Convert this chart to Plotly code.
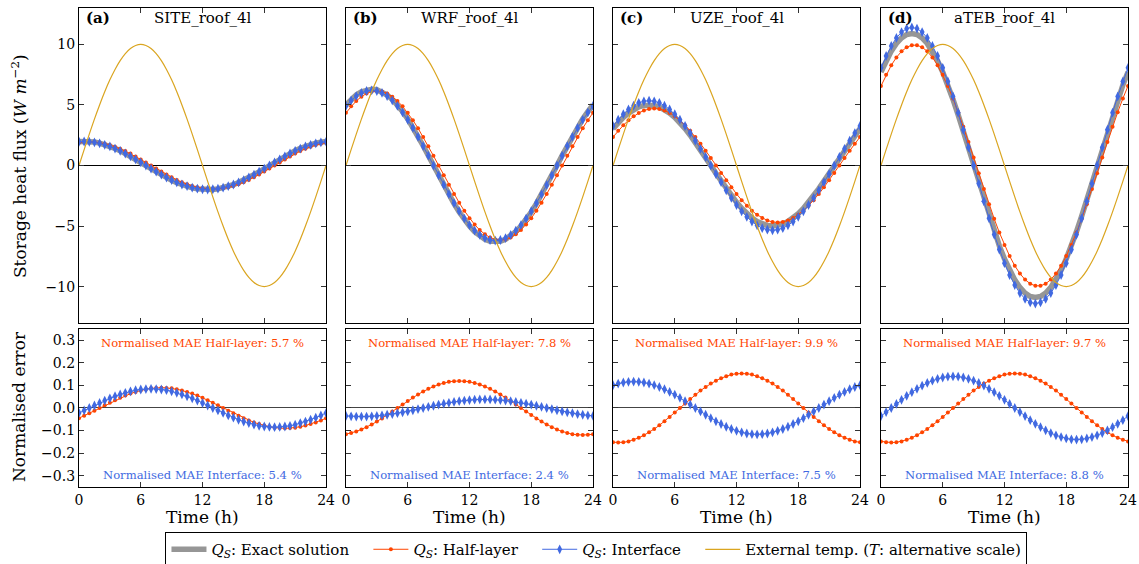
import plotly.graph_objects as go
from plotly.subplots import make_subplots

# Time of day (h), half-hourly
hours = [0, 0.5, 1, 1.5, 2, 2.5, 3, 3.5, 4, 4.5, 5, 5.5, 6, 6.5, 7, 7.5, 8, 8.5,
         9, 9.5, 10, 10.5, 11, 11.5, 12, 12.5, 13, 13.5, 14, 14.5, 15, 15.5, 16,
         16.5, 17, 17.5, 18, 18.5, 19, 19.5, 20, 20.5, 21, 21.5, 22, 22.5, 23,
         23.5, 24]

# External temperature forcing (shown on an alternative scale)
ext_temp = [0, 1.31, 2.59, 3.83, 5.0, 6.09, 7.07, 7.93, 8.66, 9.24, 9.66, 9.91, 10,
            9.91, 9.66, 9.24, 8.66, 7.93, 7.07, 6.09, 5.0, 3.83, 2.59, 1.31, 0,
            -1.31, -2.59, -3.83, -5.0, -6.09, -7.07, -7.93, -8.66, -9.24, -9.66,
            -9.91, -10, -9.91, -9.66, -9.24, -8.66, -7.93, -7.07, -6.09, -5.0,
            -3.83, -2.59, -1.31, 0]

# ---- SITE_roof_4l ----
site_exact = [1.98, 2.00, 1.98, 1.93, 1.85, 1.73, 1.59, 1.41, 1.22, 1.00, 0.77, 0.52, 0.26, 0.00,
              -0.26, -0.52, -0.77, -1.00, -1.22, -1.41, -1.59, -1.73, -1.85, -1.93, -1.98, -2.00,
              -1.98, -1.93, -1.85, -1.73, -1.59, -1.41, -1.22, -1.00, -0.77, -0.52, -0.26, 0.00,
              0.26, 0.52, 0.77, 1.00, 1.22, 1.41, 1.59, 1.73, 1.85, 1.93, 1.98]
site_half = [1.88, 1.93, 1.95, 1.93, 1.88, 1.80, 1.69, 1.55, 1.38, 1.19, 0.98, 0.75, 0.50, 0.25, 0.00,
             -0.25, -0.50, -0.75, -0.98, -1.19, -1.38, -1.55, -1.69, -1.80, -1.88, -1.93, -1.95,
             -1.93, -1.88, -1.80, -1.69, -1.55, -1.38, -1.19, -0.98, -0.75, -0.50, -0.25, 0.00,
             0.25, 0.50, 0.75, 0.98, 1.19, 1.38, 1.55, 1.69, 1.80, 1.88]
site_iface = [1.96, 1.98, 1.96, 1.91, 1.83, 1.71, 1.57, 1.40, 1.21, 0.99, 0.76, 0.51, 0.26, 0.00,
              -0.26, -0.51, -0.76, -0.99, -1.21, -1.40, -1.57, -1.71, -1.83, -1.91, -1.96, -1.98,
              -1.96, -1.91, -1.83, -1.71, -1.57, -1.40, -1.21, -0.99, -0.76, -0.51, -0.26, 0.00,
              0.26, 0.51, 0.76, 0.99, 1.21, 1.40, 1.57, 1.71, 1.83, 1.91, 1.96]
site_err_half = [-.045, -.034, -.023, -.012, 0, .012, .023, .034, .045, .055, .064, .071, .078, .083,
                 .087, .089, .090, .089, .087, .083, .078, .071, .064, .055, .045, .034, .023, .012, 0,
                 -.012, -.023, -.034, -.045, -.055, -.064, -.071, -.078, -.083, -.087, -.089, -.090,
                 -.089, -.087, -.083, -.078, -.071, -.064, -.055, -.045]
site_err_iface = [-.022, -.011, 0, .011, .022, .033, .043, .052, .060, .067, .074, .079, .082, .084,
                  .085, .084, .082, .079, .074, .067, .060, .052, .043, .033, .022, .011, 0, -.011,
                  -.022, -.033, -.043, -.052, -.060, -.067, -.074, -.079, -.082, -.084, -.085, -.084,
                  -.082, -.079, -.074, -.067, -.060, -.052, -.043, -.033, -.022]

# ---- WRF_roof_4l ----
wrf_exact = [5.00, 5.46, 5.82, 6.09, 6.25, 6.30, 6.25, 6.09, 5.82, 5.46, 5.00, 4.45, 3.84, 3.15, 2.41,
             1.63, 0.82, 0, -0.82, -1.63, -2.41, -3.15, -3.84, -4.45, -5.00, -5.46, -5.82, -6.09,
             -6.25, -6.30, -6.25, -6.09, -5.82, -5.46, -5.00, -4.45, -3.84, -3.15, -2.41, -1.63,
             -0.82, 0, 0.82, 1.63, 2.41, 3.15, 3.84, 4.45, 5.00]
wrf_half = [4.35, 4.88, 5.33, 5.68, 5.94, 6.10, 6.15, 6.10, 5.94, 5.68, 5.33, 4.88, 4.35, 3.74, 3.08,
            2.35, 1.59, 0.80, 0, -0.80, -1.59, -2.35, -3.08, -3.74, -4.35, -4.88, -5.33, -5.68,
            -5.94, -6.10, -6.15, -6.10, -5.94, -5.68, -5.33, -4.88, -4.35, -3.74, -3.08, -2.35,
            -1.59, -0.80, 0, 0.80, 1.59, 2.35, 3.08, 3.74, 4.35]
wrf_iface = [4.92, 5.37, 5.73, 5.99, 6.15, 6.20, 6.15, 5.99, 5.73, 5.37, 4.92, 4.38, 3.77, 3.10, 2.37,
             1.60, 0.81, 0, -0.81, -1.60, -2.37, -3.10, -3.77, -4.38, -4.92, -5.37, -5.73, -5.99,
             -6.15, -6.20, -6.15, -5.99, -5.73, -5.37, -4.92, -4.38, -3.77, -3.10, -2.37, -1.60,
             -0.81, 0, 0.81, 1.60, 2.37, 3.10, 3.77, 4.38, 4.92]
wrf_err_half = [-.116, -.111, -.104, -.095, -.085, -.073, -.060, -.046, -.031, -.016, 0, .016, .031,
                .046, .060, .073, .085, .095, .104, .111, .116, .119, .120, .119, .116, .111, .104,
                .095, .085, .073, .060, .046, .031, .016, 0, -.016, -.031, -.046, -.060, -.073,
                -.085, -.095, -.104, -.111, -.116, -.119, -.120, -.119, -.116]
wrf_err_iface = [-.035, -.037, -.038, -.038, -.038, -.037, -.035, -.033, -.030, -.027, -.023, -.019,
                 -.015, -.010, -.005, 0, .005, .010, .015, .019, .023, .027, .030, .033, .035, .037,
                 .038, .038, .038, .037, .035, .033, .030, .027, .023, .019, .015, .010, .005, 0,
                 -.005, -.010, -.015, -.019, -.023, -.027, -.030, -.033, -.035]

# ---- UZE_roof_4l ----
uze_exact = [3.04, 3.54, 3.97, 4.33, 4.62, 4.83, 4.96, 5.00, 4.96, 4.83, 4.62, 4.33, 3.97, 3.54, 3.04,
             2.50, 1.91, 1.29, 0.65, 0, -0.65, -1.29, -1.91, -2.50, -3.04, -3.54, -3.97, -4.33,
             -4.62, -4.83, -4.96, -5.00, -4.96, -4.83, -4.62, -4.33, -3.97, -3.54, -3.04, -2.50,
             -1.91, -1.29, -0.65, 0, 0.65, 1.29, 1.91, 2.50, 3.04]
uze_half = [2.35, 2.86, 3.32, 3.73, 4.07, 4.34, 4.54, 4.66, 4.70, 4.66, 4.54, 4.34, 4.07, 3.73, 3.32,
            2.86, 2.35, 1.80, 1.22, 0.61, 0, -0.61, -1.22, -1.80, -2.35, -2.86, -3.32, -3.73,
            -4.07, -4.34, -4.54, -4.66, -4.70, -4.66, -4.54, -4.34, -4.07, -3.73, -3.32, -2.86,
            -2.35, -1.80, -1.22, -0.61, 0, 0.61, 1.22, 1.80, 2.35]
uze_iface = [3.26, 3.78, 4.24, 4.63, 4.94, 5.17, 5.30, 5.35, 5.30, 5.17, 4.94, 4.63, 4.24, 3.78, 3.26,
             2.68, 2.05, 1.38, 0.70, 0, -0.70, -1.38, -2.05, -2.68, -3.26, -3.78, -4.24, -4.63,
             -4.94, -5.17, -5.30, -5.35, -5.30, -5.17, -4.94, -4.63, -4.24, -3.78, -3.26, -2.68,
             -2.05, -1.38, -0.70, 0, 0.70, 1.38, 2.05, 2.68, 3.26]
uze_err_half = [-.152, -.153, -.152, -.148, -.141, -.132, -.121, -.108, -.093, -.077, -.059, -.040,
                -.020, 0, .020, .040, .059, .077, .093, .108, .121, .132, .141, .148, .152, .153,
                .152, .148, .141, .132, .121, .108, .093, .077, .059, .040, .020, 0, -.020, -.040,
                -.059, -.077, -.093, -.108, -.121, -.132, -.141, -.148, -.152]
uze_err_iface = [.101, .108, .113, .116, .117, .116, .113, .108, .101, .093, .083, .071, .059, .045,
                 .030, .015, 0, -.015, -.030, -.045, -.059, -.071, -.083, -.093, -.101, -.108,
                 -.113, -.116, -.117, -.116, -.113, -.108, -.101, -.093, -.083, -.071, -.059, -.045,
                 -.030, -.015, 0, .015, .030, .045, .059, .071, .083, .093, .101]

# ---- aTEB_roof_4l ----
ateb_exact = [7.71, 8.65, 9.44, 10.07, 10.53, 10.81, 10.90, 10.81, 10.53, 10.07, 9.44, 8.65, 7.71,
              6.64, 5.45, 4.17, 2.82, 1.42, 0, -1.42, -2.82, -4.17, -5.45, -6.64, -7.71, -8.65,
              -9.44, -10.07, -10.53, -10.81, -10.90, -10.81, -10.53, -10.07, -9.44, -8.65, -7.71,
              -6.64, -5.45, -4.17, -2.82, -1.42, 0, 1.42, 2.82, 4.17, 5.45, 6.64, 7.71]
ateb_half = [6.56, 7.48, 8.27, 8.92, 9.42, 9.76, 9.93, 9.93, 9.76, 9.42, 8.92, 8.27, 7.48, 6.56, 5.53,
             4.40, 3.20, 1.94, 0.65, -0.65, -1.94, -3.20, -4.40, -5.53, -6.56, -7.48, -8.27, -8.92,
             -9.42, -9.76, -9.93, -9.93, -9.76, -9.42, -8.92, -8.27, -7.48, -6.56, -5.53, -4.40,
             -3.20, -1.94, -0.65, 0.65, 1.94, 3.20, 4.40, 5.53, 6.56]
ateb_iface = [8.06, 9.04, 9.87, 10.53, 11.01, 11.30, 11.40, 11.30, 11.01, 10.53, 9.87, 9.04, 8.06,
              6.94, 5.70, 4.36, 2.95, 1.49, 0, -1.49, -2.95, -4.36, -5.70, -6.94, -8.06, -9.04,
              -9.87, -10.53, -11.01, -11.30, -11.40, -11.30, -11.01, -10.53, -9.87, -9.04, -8.06,
              -6.94, -5.70, -4.36, -2.95, -1.49, 0, 1.49, 2.95, 4.36, 5.70, 6.94, 8.06]
ateb_err_half = [-.148, -.152, -.153, -.152, -.148, -.141, -.132, -.121, -.108, -.093, -.077, -.059,
                 -.040, -.020, 0, .020, .040, .059, .077, .093, .108, .121, .132, .141, .148, .152,
                 .153, .152, .148, .141, .132, .121, .108, .093, .077, .059, .040, .020, 0, -.020,
                 -.040, -.059, -.077, -.093, -.108, -.121, -.132, -.141, -.148]
ateb_err_iface = [-.036, -.018, 0, .018, .036, .054, .070, .085, .099, .111, .121, .129, .135, .139,
                  .140, .139, .135, .129, .121, .111, .099, .085, .070, .054, .036, .018, 0, -.018,
                  -.036, -.054, -.070, -.085, -.099, -.111, -.121, -.129, -.135, -.139, -.140,
                  -.139, -.135, -.129, -.121, -.111, -.099, -.085, -.070, -.054, -.036]

panel_names = ["SITE_roof_4l", "WRF_roof_4l", "UZE_roof_4l", "aTEB_roof_4l"]
panel_tags = ["(a)", "(b)", "(c)", "(d)"]
mae_half = ["5.7", "7.8", "9.9", "9.7"]
mae_iface = ["5.4", "2.4", "7.5", "8.8"]
exact_series = [site_exact, wrf_exact, uze_exact, ateb_exact]
half_series = [site_half, wrf_half, uze_half, ateb_half]
iface_series = [site_iface, wrf_iface, uze_iface, ateb_iface]
err_half_series = [site_err_half, wrf_err_half, uze_err_half, ateb_err_half]
err_iface_series = [site_err_iface, wrf_err_iface, uze_err_iface, ateb_err_iface]

GREY = "#969696"
RED = "#FF4500"
BLUE = "#4169E1"
GOLD = "#DAA520"
SERIF = "DejaVu Serif"
PAD = "&nbsp;" * 3

fig = make_subplots(rows=2, cols=4)

for i in range(4):
    col = i + 1
    first = i == 0
    fig.add_trace(go.Scatter(
        x=hours, y=exact_series[i], mode="lines", line=dict(color=GREY, width=5.5),
        name="<i>Q<sub>S</sub></i>: Exact solution" + PAD, legendgroup="exact",
        showlegend=first), row=1, col=col)
    fig.add_trace(go.Scatter(
        x=hours, y=half_series[i], mode="lines+markers",
        line=dict(color=RED, width=1), marker=dict(symbol="circle", size=4, color=RED),
        name="<i>Q<sub>S</sub></i>: Half-layer" + PAD, legendgroup="half",
        showlegend=first), row=1, col=col)
    fig.add_trace(go.Scatter(
        x=hours, y=iface_series[i], mode="lines+markers",
        line=dict(color=BLUE, width=1), marker=dict(symbol="diamond-tall", size=7, color=BLUE),
        name="<i>Q<sub>S</sub></i>: Interface" + PAD, legendgroup="iface",
        showlegend=first), row=1, col=col)
    fig.add_trace(go.Scatter(
        x=hours, y=ext_temp, mode="lines", line=dict(color=GOLD, width=1.2, shape="spline"),
        name="External temp. (<i>T</i>: alternative scale)", legendgroup="temp",
        showlegend=first), row=1, col=col)

    fig.add_trace(go.Scatter(
        x=hours, y=err_half_series[i], mode="lines+markers",
        line=dict(color=RED, width=1), marker=dict(symbol="circle", size=4, color=RED),
        showlegend=False, legendgroup="half"), row=2, col=col)
    fig.add_trace(go.Scatter(
        x=hours, y=err_iface_series[i], mode="lines+markers",
        line=dict(color=BLUE, width=1), marker=dict(symbol="diamond-tall", size=7, color=BLUE),
        showlegend=False, legendgroup="iface"), row=2, col=col)

x_domains = [[0.0, 0.2355], [0.2545, 0.49], [0.5091, 0.7445], [0.7645, 1.0]]
y_domains = [[0.3424, 1.0], [0.0, 0.3299]]

axis_common = dict(
    showline=True, linecolor="black", linewidth=1.3, mirror="allticks",
    ticks="inside", ticklen=5, tickwidth=1, tickcolor="#333333",
    showgrid=False, tickfont=dict(family=SERIF, size=14, color="black"),
)

for r in range(2):
    for c in range(4):
        idx = r * 4 + c + 1
        xname = "xaxis" if idx == 1 else f"xaxis{idx}"
        yname = "yaxis" if idx == 1 else f"yaxis{idx}"
        fig.layout[xname].update(
            domain=x_domains[c], range=[0, 24], tickvals=[0, 6, 12, 18, 24],
            zeroline=False, showticklabels=(r == 1), **axis_common)
        if r == 0:
            fig.layout[yname].update(
                domain=y_domains[0], range=[-13, 13], tickvals=[-10, -5, 0, 5, 10],
                zeroline=True, zerolinecolor="black", zerolinewidth=1,
                showticklabels=(c == 0), **axis_common)
        else:
            fig.layout[yname].update(
                domain=y_domains[1], range=[-0.35, 0.35],
                tickvals=[-0.3, -0.2, -0.1, 0.0, 0.1, 0.2, 0.3], tickformat=".1f",
                zeroline=True, zerolinecolor="#444444", zerolinewidth=1,
                showticklabels=(c == 0), **axis_common)

annotations = []
for i in range(4):
    top = "x" if i == 0 else f"x{i + 1}"
    ytop = "y" if i == 0 else f"y{i + 1}"
    bot = f"x{i + 5}"
    ybot = f"y{i + 5}"
    annotations.append(dict(x=0.45, y=12.2, xref=top, yref=ytop, text=f"<b>{panel_tags[i]}</b>",
                            showarrow=False, xanchor="left", yanchor="middle",
                            font=dict(family=SERIF, size=15, color="black")))
    annotations.append(dict(x=12, y=12.2, xref=top, yref=ytop, text=panel_names[i],
                            showarrow=False, xanchor="center", yanchor="middle",
                            font=dict(family=SERIF, size=15, color="black")))
    annotations.append(dict(x=12, y=0.29, xref=bot, yref=ybot,
                            text=f"Normalised MAE Half-layer: {mae_half[i]} %",
                            showarrow=False, xanchor="center", yanchor="middle",
                            font=dict(family=SERIF, size=11.6, color=RED)))
    annotations.append(dict(x=12, y=-0.295, xref=bot, yref=ybot,
                            text=f"Normalised MAE Interface: {mae_iface[i]} %",
                            showarrow=False, xanchor="center", yanchor="middle",
                            font=dict(family=SERIF, size=11.6, color=BLUE)))
    annotations.append(dict(x=12, y=-0.0635, xref=bot, yref="paper", text="Time (h)",
                            showarrow=False, xanchor="center", yanchor="middle",
                            font=dict(family=SERIF, size=17, color="black")))

annotations.append(dict(x=-0.0572, y=0.670, xref="paper", yref="paper",
                        text="Storage heat flux (<i>W m</i><sup>−2</sup>)", textangle=-90,
                        showarrow=False, xanchor="center", yanchor="middle",
                        font=dict(family=SERIF, size=17, color="black")))
annotations.append(dict(x=-0.0572, y=0.169, xref="paper", yref="paper",
                        text="Normalised error", textangle=-90,
                        showarrow=False, xanchor="center", yanchor="middle",
                        font=dict(family=SERIF, size=17, color="black")))

fig.update_layout(
    width=1139, height=564,
    margin=dict(l=79, r=11, t=8, b=77, autoexpand=False),
    paper_bgcolor="white", plot_bgcolor="white",
    annotations=annotations,
    legend=dict(orientation="h", x=0.4933, y=-0.094, xanchor="center", yanchor="top",
                bordercolor="black", borderwidth=1, bgcolor="white", itemwidth=35,
                font=dict(family=SERIF, size=15, color="black"),
                traceorder="normal"),
)

fig.write_html("out.html")
